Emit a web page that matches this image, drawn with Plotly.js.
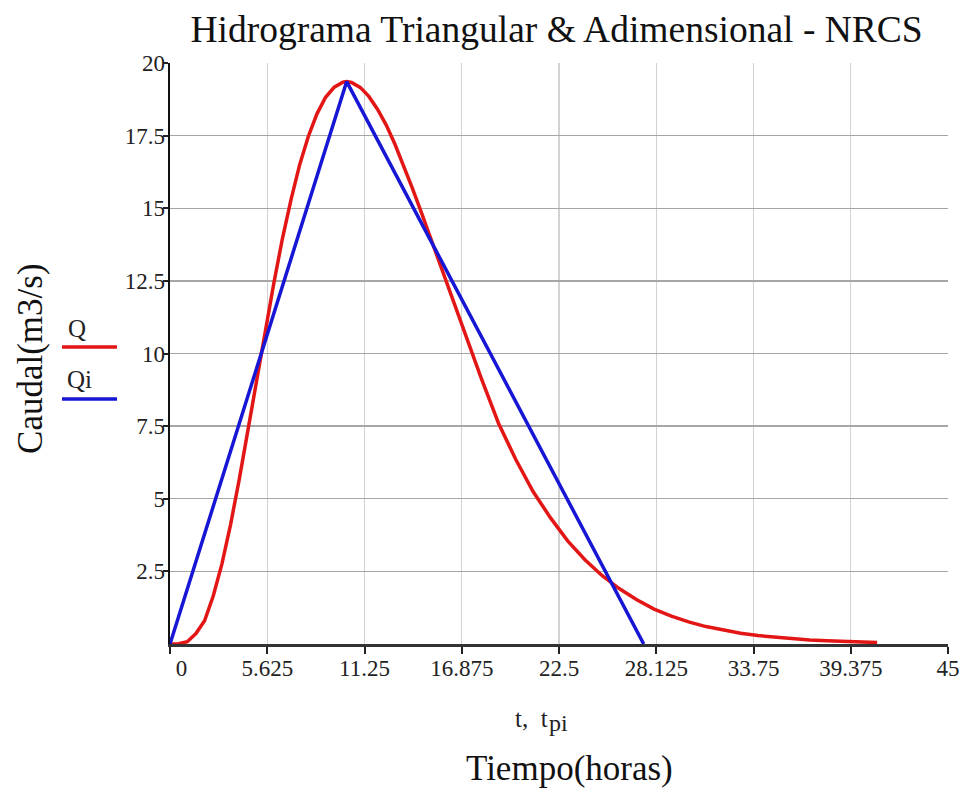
<!DOCTYPE html>
<html>
<head>
<meta charset="utf-8">
<script src="https://cdn.plot.ly/plotly-3.0.1.min.js"></script>
<style>html,body{margin:0;padding:0;background:#fff;}#chart{width:968px;height:789px;}</style>
</head>
<body>
<div id="chart"></div>
<script>
// Dimensionless (NRCS) hydrograph
const t = [0, 0.5, 1, 1.5, 2, 2.5, 3, 3.5, 4, 4.5, 5, 5.5, 6, 6.5, 7, 7.5, 8, 8.5, 9, 9.5, 10, 10.22,
           10.5, 11, 11.5, 12, 12.5, 13, 13.5, 14, 14.5, 15, 15.5, 16, 16.5, 17, 17.5, 18, 19, 20,
           21, 22, 23, 24, 25, 26, 27, 28, 29, 30, 31, 32, 33, 34, 35, 36, 37, 38, 39, 40, 40.9];
const Q = [0, 0.01, 0.08, 0.36, 0.8, 1.65, 2.75, 4.1, 5.65, 7.35, 9.05, 10.8, 12.4, 13.95, 15.3, 16.5,
           17.47, 18.25, 18.82, 19.17, 19.34, 19.36,
           19.33, 19.16, 18.85, 18.41, 17.87, 17.22, 16.5, 15.72, 14.92, 14.1, 13.25, 12.45, 11.6, 10.75,
           9.95, 9.15, 7.6, 6.35, 5.25, 4.35, 3.55, 2.9, 2.35, 1.9, 1.52, 1.2, 0.96, 0.76,
           0.6, 0.47, 0.37, 0.29, 0.23, 0.18, 0.14, 0.11, 0.08, 0.06, 0.05];
// Triangular hydrograph
const tpi = [0, 10.22, 27.4];
const Qi = [0, 19.36, 0];
// Ticks
const xTicks = [0, 5.625, 11.25, 16.875, 22.5, 28.125, 33.75, 39.375, 45];
const xTickText = ["\u00a0\u00a0\u00a0\u00a00", "5.625", "11.25", "16.875", "22.5", "28.125", "33.75", "39.375", "45"];
const yTicks = [2.5, 5, 7.5, 10, 12.5, 15, 17.5, 20];
const yTickText = ["2.5", "5", "7.5", "10", "12.5", "15", "17.5", "20"];
const seriesNames = ["Q", "Qi"];
const seriesColors = ["#e31616", "#1616d4"];

const serif = "Liberation Serif, Times New Roman, serif";

const traces = [
  {x: t, y: Q, name: seriesNames[0], mode: "lines", line: {color: seriesColors[0], width: 3.5}},
  {x: tpi, y: Qi, name: seriesNames[1], mode: "lines", line: {color: seriesColors[1], width: 3.5}}
];

const layout = {
  width: 968, height: 789,
  margin: {l: 170, r: 20, t: 63, b: 145},
  paper_bgcolor: "#fff", plot_bgcolor: "#fff",
  showlegend: false,
  title: {text: "Hidrograma Triangular &amp; Adimensional - NRCS", font: {family: serif, size: 37.5, color: "#111"},
          x: 0.575, xanchor: "center", y: 0.963, yanchor: "middle"},
  xaxis: {
    range: [0, 45], tickmode: "array", tickvals: xTicks, ticktext: xTickText,
    showgrid: true, gridcolor: "#d2d2d2", gridwidth: 1.2,
    showline: true, linecolor: "#333", linewidth: 2.5,
    ticks: "outside", ticklen: 7, tickwidth: 2, tickcolor: "#222",
    ticklabelstandoff: -5,
    zeroline: false,
    tickfont: {family: serif, size: 23, color: "#222"},
    title: {text: ""}
  },
  yaxis: {
    range: [0, 20], tickmode: "array", tickvals: yTicks, ticktext: yTickText,
    showgrid: true, gridcolor: "#a6a6a6", gridwidth: 1.4,
    showline: true, linecolor: "#111", linewidth: 2.5,
    ticks: "outside", ticklen: 5, tickwidth: 2, tickcolor: "#222",
    ticklabelstandoff: -7,
    zeroline: false,
    tickfont: {family: serif, size: 23, color: "#222"},
    title: {text: ""}
  },
  annotations: [
    {text: "Caudal(m3/s)", xref: "paper", yref: "paper", x: -0.1787, y: 0.4923, xanchor: "center", yanchor: "middle",
     textangle: -90, showarrow: false, font: {family: serif, size: 35, color: "#111"}},
    {text: "t,\u00a0\u00a0t", xref: "paper", yref: "paper", x: 0.4884, y: -0.1274, xanchor: "right", yanchor: "middle",
     showarrow: false, font: {family: serif, size: 25, color: "#222"}},
    {text: "pi", xref: "paper", yref: "paper", x: 0.4845, y: -0.136, xanchor: "left", yanchor: "middle",
     showarrow: false, font: {family: serif, size: 24, color: "#222"}},
    {text: "Tiempo(horas)", xref: "paper", yref: "paper", x: 0.514, y: -0.215, xanchor: "center", yanchor: "middle",
     showarrow: false, font: {family: serif, size: 35, color: "#111"}},
    {text: seriesNames[0], xref: "paper", yref: "paper", x: -0.1195, y: 0.543, xanchor: "center", yanchor: "middle",
     showarrow: false, font: {family: serif, size: 25, color: "#222"}},
    {text: seriesNames[1], xref: "paper", yref: "paper", x: -0.1157, y: 0.455, xanchor: "center", yanchor: "middle",
     showarrow: false, font: {family: serif, size: 25, color: "#222"}}
  ],
  shapes: [
    {type: "line", xref: "paper", yref: "paper", x0: -0.1388, x1: -0.0681, y0: 0.5112, y1: 0.5112,
     line: {color: seriesColors[0], width: 3.5}},
    {type: "line", xref: "paper", yref: "paper", x0: -0.1388, x1: -0.0681, y0: 0.4217, y1: 0.4217,
     line: {color: seriesColors[1], width: 3.5}}
  ]
};

Plotly.newPlot("chart", traces, layout, {displayModeBar: false, staticPlot: true});
</script>
</body>
</html>
